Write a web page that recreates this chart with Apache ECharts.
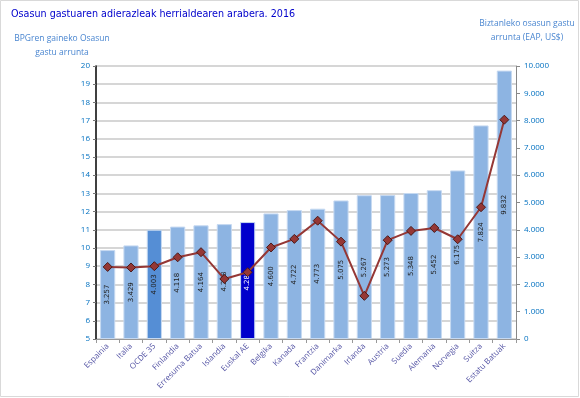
<!DOCTYPE html>
<html><head><meta charset="utf-8">
<script src="https://cdn.jsdelivr.net/npm/echarts@6/dist/echarts.min.js"></script>
<style>html,body{margin:0;padding:0;background:#fff}#c{width:580px;height:398px}</style>
</head><body><div id="c"></div>
<script>
const categories = ['Espainia','Italia','OCDE 35','Finlandia','Erresuma Batua','Islandia','Euskal AE','Belgika','Kanada','Frantzia','Danimarka','Irlanda','Austria','Suedia','Alemania','Norvegia','Suitza','Estatu Batuak'];
const spendingPerCapita = [3257,3429,4003,4118,4164,4208,4283,4600,4722,4773,5075,5267,5273,5348,5452,6175,7824,9832];
const spendingPctGDP = [8.96,8.93,9.0,9.49,9.77,8.30,8.67,10.03,10.5,11.5,10.35,7.37,10.43,10.94,11.1,10.48,12.24,17.05];
const leftTicks = {min:5,max:20,interval:1};
const rightTicks = {min:0,max:10000,interval:1000};

const fmt = v => String(v).replace(/\B(?=(\d{3})+(?!\d))/g,'.');
const barColor = c => c==='OCDE 35' ? '#558ed5' : (c==='Euskal AE' ? '#0000cc' : '#8db4e2');
const lblColor = c => c==='Euskal AE' ? '#ffffff' : '#222';

const chart = echarts.init(document.getElementById('c'), null, {renderer:'canvas'});
chart.setOption({
  animation:false,
  backgroundColor:'#fff',
  title:{text:'Osasun gastuaren adierazleak herrialdearen arabera. 2016',left:6,top:4,
    textStyle:{fontFamily:'DejaVu Sans',fontSize:9.6,fontWeight:'normal',color:'#0000cc'}},
  graphic:[
    {type:'rect',shape:{x:0.5,y:0.5,width:578,height:396},style:{fill:'none',stroke:'#d9d9d9',lineWidth:1},silent:true},
    {type:'text',x:62,y:32,style:{text:'BPGren gaineko Osasun\ngastu arrunta',align:'center',fill:'#4a86d0',font:'8.5px "Open Sans"',lineHeight:14}},
    {type:'text',x:527,y:17,style:{text:'Biztanleko osasun gastu\narrunta (EAP, US$)',align:'center',fill:'#4a86d0',font:'8.5px "Open Sans"',lineHeight:14}}
  ],
  grid:{left:96,right:64,top:66,bottom:59,containLabel:false},
  xAxis:{type:'category',data:categories,
    axisLine:{lineStyle:{color:'#999',width:1}},
    axisTick:{show:true,alignWithLabel:false,length:4,lineStyle:{color:'#999'}},
    axisLabel:{rotate:45,interval:0,fontSize:8,fontFamily:'Open Sans',color:'#5555a5',margin:6}},
  yAxis:[
    {type:'value',min:leftTicks.min,max:leftTicks.max,interval:leftTicks.interval,position:'left',
     axisLine:{show:true,lineStyle:{color:'#000',width:1.5}},
     axisTick:{show:true,length:3,lineStyle:{color:'#777'}},
     axisLabel:{fontSize:8,fontFamily:'Open Sans',color:'#0070c0',margin:6},
     splitLine:{show:true,lineStyle:{color:'#d6d6d6',width:2}}},
    {type:'value',min:rightTicks.min,max:rightTicks.max,interval:rightTicks.interval,position:'right',
     axisLine:{show:true,lineStyle:{color:'#888',width:1}},
     axisTick:{show:true,length:4,lineStyle:{color:'#888'}},
     axisLabel:{fontSize:8,fontFamily:'Open Sans',color:'#0070c0',margin:8,formatter:v=>fmt(v)},
     splitLine:{show:false}}
  ],
  series:[
    {type:'bar',yAxisIndex:1,barWidth:'65%',
     data:spendingPerCapita.map((v,i)=>({value:v,
        itemStyle:{color:barColor(categories[i]),borderColor:'#c6d9f1',borderWidth:1},
        label:{color:lblColor(categories[i])}})),
     label:{show:true,position:'inside',rotate:90,fontSize:7,fontFamily:'DejaVu Sans',
       formatter:p=>fmt(p.value)}},
    {type:'line',yAxisIndex:0,data:spendingPctGDP,
     lineStyle:{color:'#953735',width:2},
     symbol:'diamond',symbolSize:9,
     itemStyle:{color:'#953735',borderColor:'#4a1a1a',borderWidth:1},z:5}
  ]
});
</script></body></html>
